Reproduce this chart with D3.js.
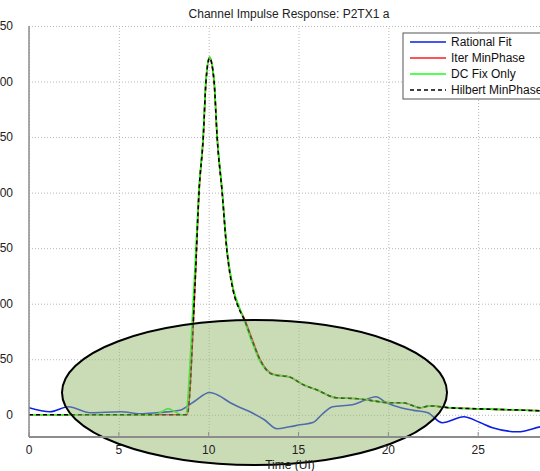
<!DOCTYPE html>
<html>
<head>
<meta charset="utf-8">
<script src="https://d3js.org/d3.v7.min.js"></script>
<style>
  body { margin: 0; background: #fff; }
  text { font-family: "Liberation Sans", Arial, sans-serif; }
  .grid line { stroke: #b8b8b8; stroke-dasharray: 1,2; }
  .grid path { stroke: none; }
</style>
</head>
<body>
<div id="vis"></div>
<script>

// series data (time in UI)
var timeHilbert = [0, 2, 4, 6, 8, 8.8, 9.25, 9.46, 9.7, 9.85, 10.05, 10.3, 10.47, 10.75, 11.0, 11.36, 11.7, 12.0, 12.4, 12.86, 13.6, 14.5, 15.27, 16.0, 17.1, 18.3, 19.0, 20.1, 20.8, 21.8, 22.3, 23.4, 24.9, 26.8, 28.45, 30];
var hilbertMinPhase = [0, 0, 0, 0, 0, 0, 121, 200, 250, 300, 321, 300, 250, 200, 150, 112, 95, 85, 68, 49.5, 36, 34, 27, 22.5, 15.3, 14.4, 13, 10.8, 10.8, 6.3, 8, 6.3, 5.4, 4.5, 3.6, 3];
var iterMinPhase = [0, 0, 0, 0, 0, 0, 121, 200, 250, 300, 322, 300, 250, 201, 151, 113, 96, 86, 69, 50, 36.5, 34, 27, 22.5, 15.3, 14.4, 13, 10.8, 10.8, 6.3, 8, 6.3, 5.4, 4.5, 3.6, 3];

var timeDC = [0, 2, 4, 6, 7, 7.4, 7.75, 8.1, 8.5, 8.7, 9.2, 9.46, 9.7, 9.85, 10.05, 10.3, 10.47, 10.75, 11.0, 11.36, 11.7, 12.0, 12.4, 12.86, 13.6, 14.5, 15.27, 16.0, 17.1, 18.3, 19.0, 20.1, 20.8, 21.8, 22.3, 23.4, 24.9, 26.8, 28.45, 30];
var dcFixOnly = [0, 0, 0, 0, 0, 3, 5.5, 3, 0, 0, 121, 203, 253, 302, 322, 302, 252, 202, 152, 114, 97, 84, 66, 48, 36, 34, 27, 22.5, 15.3, 14.4, 13, 10.8, 10.8, 6.3, 8, 6.3, 5.4, 4.5, 3.6, 3];

var timeRational = [0, 1.17, 2.2, 3.4, 5.1, 6.2, 7.1, 8.4, 9.2, 10.05, 10.6, 11.2, 12.3, 13.1, 13.8, 14.5, 15.1, 15.8, 16.4, 16.9, 18.0, 18.6, 19.3, 19.9, 20.7, 21.4, 22.2, 23.0, 24.2, 25.1, 25.8, 27.2, 28.45, 30];
var rationalFit = [6.3, 2.7, 7.2, 1.8, 2.7, 0.9, 1.8, 4, 12, 20, 17, 10.8, 2.7, -4.5, -12.6, -10.8, -9, -7, 1.8, 7.2, 9, 12.6, 16.2, 10.8, 6.3, 4, 1.8, -7.2, -1.8, -7, -11.7, -15.3, -10.8, -6];

var xTicks = [0, 5, 10, 15, 20, 25, 30];
var yTicks = [0, 50, 100, 150, 200, 250, 300, 350];

var seriesNames = ["Rational Fit", "Iter MinPhase", "DC Fix Only", "Hilbert MinPhase"];
var seriesColors = ["#0a1ee6", "#ff1a1a", "#1aff1a", "#000000"];

var width = 540;
var height = 471;
var margin = {top: 26, right: -28, bottom: 34, left: 29};

var svg = d3.select("#vis")
      .append("svg")
        .attr("width", width)
        .attr("height", height);

var x = d3.scaleLinear()
    .domain([0, 30])
    .range([margin.left, width - margin.right]);

var y = d3.scaleLinear()
    .domain([-20, 350])
    .range([height - margin.bottom, margin.top]);

svg.append("clipPath")
    .attr("id", "plot-clip")
  .append("rect")
    .attr("x", x(0))
    .attr("y", y(350))
    .attr("width", x(30) - x(0))
    .attr("height", y(-20) - y(350));

// gridlines
svg.append("g")
    .attr("class", "grid")
    .attr("transform", "translate(0," + y(-20) + ")")
    .call(d3.axisBottom(x)
        .tickValues(xTicks)
        .tickSize(-(y(-20) - y(350)))
        .tickFormat(""));

svg.append("g")
    .attr("class", "grid")
    .attr("transform", "translate(" + x(0) + ",0)")
    .call(d3.axisLeft(y)
        .tickValues(yTicks)
        .tickSize(-(x(30) - x(0)))
        .tickFormat(""));

// the four curves
function makeLine(times) {
  return d3.line()
    .curve(d3.curveMonotoneX)
    .x(function(d, i) { return x(times[i]); })
    .y(function(d) { return y(d); });
}

var plot = svg.append("g").attr("clip-path", "url(#plot-clip)");

plot.append("path")
    .attr("d", makeLine(timeRational)(rationalFit))
    .attr("fill", "none")
    .attr("stroke", seriesColors[0])
    .attr("stroke-width", 1.6);

plot.append("path")
    .attr("d", makeLine(timeHilbert)(iterMinPhase))
    .attr("fill", "none")
    .attr("stroke", seriesColors[1])
    .attr("stroke-width", 1.6);

plot.append("path")
    .attr("d", makeLine(timeDC)(dcFixOnly))
    .attr("fill", "none")
    .attr("stroke", seriesColors[2])
    .attr("stroke-width", 1.6);

plot.append("path")
    .attr("d", makeLine(timeHilbert)(hilbertMinPhase))
    .attr("fill", "none")
    .attr("stroke", seriesColors[3])
    .attr("stroke-width", 1.6)
    .attr("stroke-dasharray", "4,3");

// highlight ellipse
svg.append("ellipse")
    .attr("cx", 254.5)
    .attr("cy", 392.5)
    .attr("rx", 192.5)
    .attr("ry", 72.5)
    .attr("fill", "rgb(150,185,110)")
    .attr("fill-opacity", 0.5)
    .attr("stroke", "#000")
    .attr("stroke-width", 2);

// axes lines
svg.append("line")
    .attr("x1", x(0)).attr("x2", x(0))
    .attr("y1", y(350)).attr("y2", y(-20))
    .attr("stroke", "#8c8c8c").attr("stroke-width", 1.5);

svg.append("line")
    .attr("x1", x(0)).attr("x2", x(30))
    .attr("y1", y(-20)).attr("y2", y(-20))
    .attr("stroke", "#8c8c8c").attr("stroke-width", 2);

// tick marks, pointing inward
svg.selectAll(".xtick")
    .data(xTicks)
  .enter().append("line")
    .attr("x1", function(d) { return x(d); })
    .attr("x2", function(d) { return x(d); })
    .attr("y1", y(-20))
    .attr("y2", y(-20) - 5)
    .attr("stroke", "#8c8c8c");

// only the labels that fall inside the window
svg.selectAll(".xlabel")
    .data(xTicks.filter(function(d) { return x(d) < width - 10; }))
  .enter().append("text")
    .attr("x", function(d) { return x(d); })
    .attr("y", y(-20) + 17)
    .attr("text-anchor", "middle")
    .style("font-size", "12px")
    .style("fill", "#222")
    .text(function(d) { return d; });

// y labels sit far left, so the hundreds digit is cut off like in the original
svg.selectAll(".ylabel")
    .data(yTicks)
  .enter().append("text")
    .attr("x", x(0) - 16)
    .attr("y", function(d) { return y(d); })
    .attr("dy", "0.35em")
    .attr("text-anchor", "end")
    .style("font-size", "12px")
    .style("fill", "#222")
    .text(function(d) { return d; });

// axis title and chart title
svg.append("text")
    .attr("x", 290)
    .attr("y", 469)
    .attr("text-anchor", "middle")
    .style("font-size", "12px")
    .style("fill", "#222")
    .text("Time (UI)");

svg.append("text")
    .attr("x", 289)
    .attr("y", 18)
    .attr("text-anchor", "middle")
    .style("font-size", "12px")
    .style("fill", "#222")
    .text("Channel Impulse Response: P2TX1 a");

// legend
var legend = svg.append("g").attr("transform", "translate(403,33)");

legend.append("rect")
    .attr("width", 160)
    .attr("height", 66)
    .attr("fill", "#fff")
    .attr("stroke", "#555")
    .attr("stroke-width", 1);

var rows = legend.selectAll(".row")
    .data(seriesNames)
  .enter().append("g")
    .attr("transform", function(d, i) { return "translate(0," + (9 + i * 16) + ")"; });

rows.append("line")
    .attr("x1", 7)
    .attr("x2", 43)
    .attr("stroke", function(d, i) { return seriesColors[i]; })
    .attr("stroke-width", 1.6)
    .attr("stroke-dasharray", function(d, i) { return i == 3 ? "4,3" : null; });

rows.append("text")
    .attr("x", 48)
    .attr("dy", "0.35em")
    .style("font-size", "12px")
    .style("fill", "#111")
    .text(function(d) { return d; });

</script>
</body>
</html>
